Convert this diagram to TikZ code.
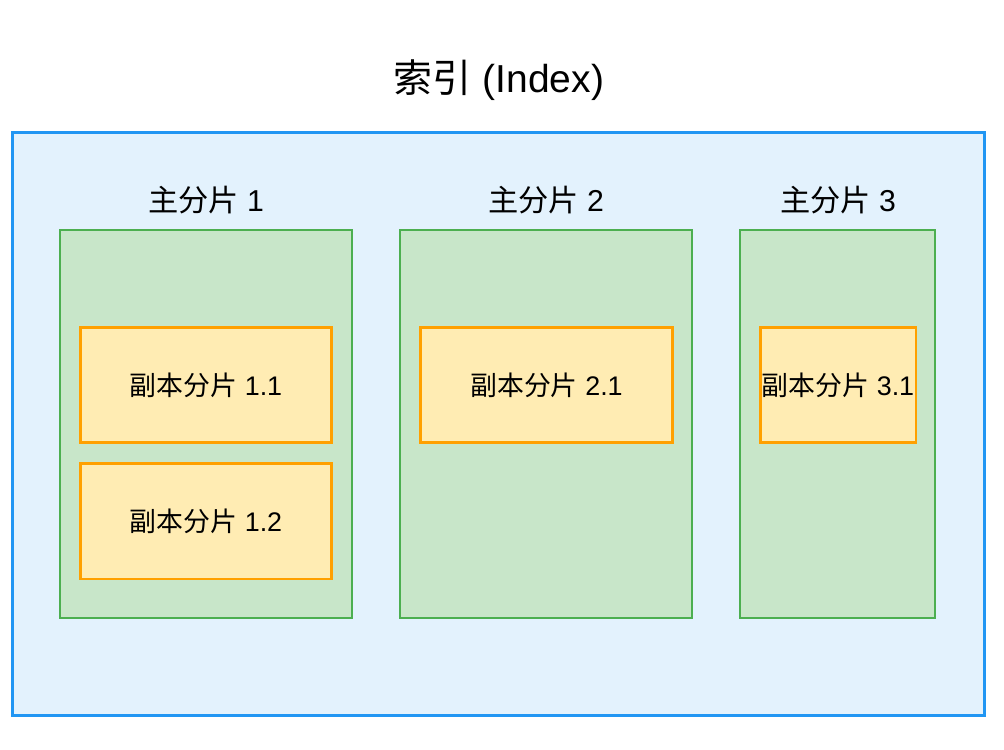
\documentclass[tikz,border=0pt]{standalone}
\usepackage{fontspec}
\setmainfont{Liberation Sans}
\newfontfamily\cjk{Noto Sans CJK SC}
\usetikzlibrary{positioning}
\definecolor{iblue}{HTML}{2196F3}
\definecolor{ifill}{HTML}{E3F2FD}
\definecolor{pgreen}{HTML}{4CAF50}
\definecolor{pfill}{HTML}{C8E6C9}
\definecolor{rorange}{HTML}{FFA000}
\definecolor{rfill}{HTML}{FFECB3}

\begin{document}
\begin{tikzpicture}[x=0.02cm, y=-0.02cm,
    index/.style={draw=iblue, fill=ifill, line width=1.7pt, minimum width=19.46cm, minimum height=11.68cm},
    primary/.style={draw=pgreen, fill=pfill, line width=1.6pt, minimum height=7.76cm},
    replica/.style={draw=rorange, fill=rfill, line width=1.7pt, minimum height=2.32cm, inner sep=0pt, font=\fontsize{15.3}{18}\selectfont},
    plabel/.style={font=\fontsize{17.2}{20}\selectfont}]
    \useasboundingbox (0, 0) rectangle (1004, 750);

    \node [font=\fontsize{22.2}{26}\selectfont] (title) at (499, 80) {{\cjk 索引} (Index)};
    \node [index] (index) at (498.5, 424) {};

    % primary shards
    \node [primary, minimum width=5.84cm] (p1) at (206, 424) {};
    \node [primary, minimum width=5.84cm] (p2) at (546, 424) {};
    \node [primary, minimum width=3.9cm] (p3) at (837.5, 424) {};

    \node [plabel] (p1label) at (206, 200) {{\cjk 主分片} 1};
    \node [plabel] (p2label) at (546, 200) {{\cjk 主分片} 2};
    \node [plabel] (p3label) at (838, 200) {{\cjk 主分片} 3};

    % replica shards
    \node [replica, minimum width=5.04cm] (r11) at (206, 385) {{\cjk 副本分片} 1.1};
    \node [replica, minimum width=5.04cm] (r12) at (206, 521) {{\cjk 副本分片} 1.2};
    \node [replica, minimum width=5.06cm] (r21) at (546.5, 385) {{\cjk 副本分片} 2.1};
    \node [replica, minimum width=3.12cm] (r31) at (838, 385) {{\cjk 副本分片} 3.1};
\end{tikzpicture}
\end{document}
